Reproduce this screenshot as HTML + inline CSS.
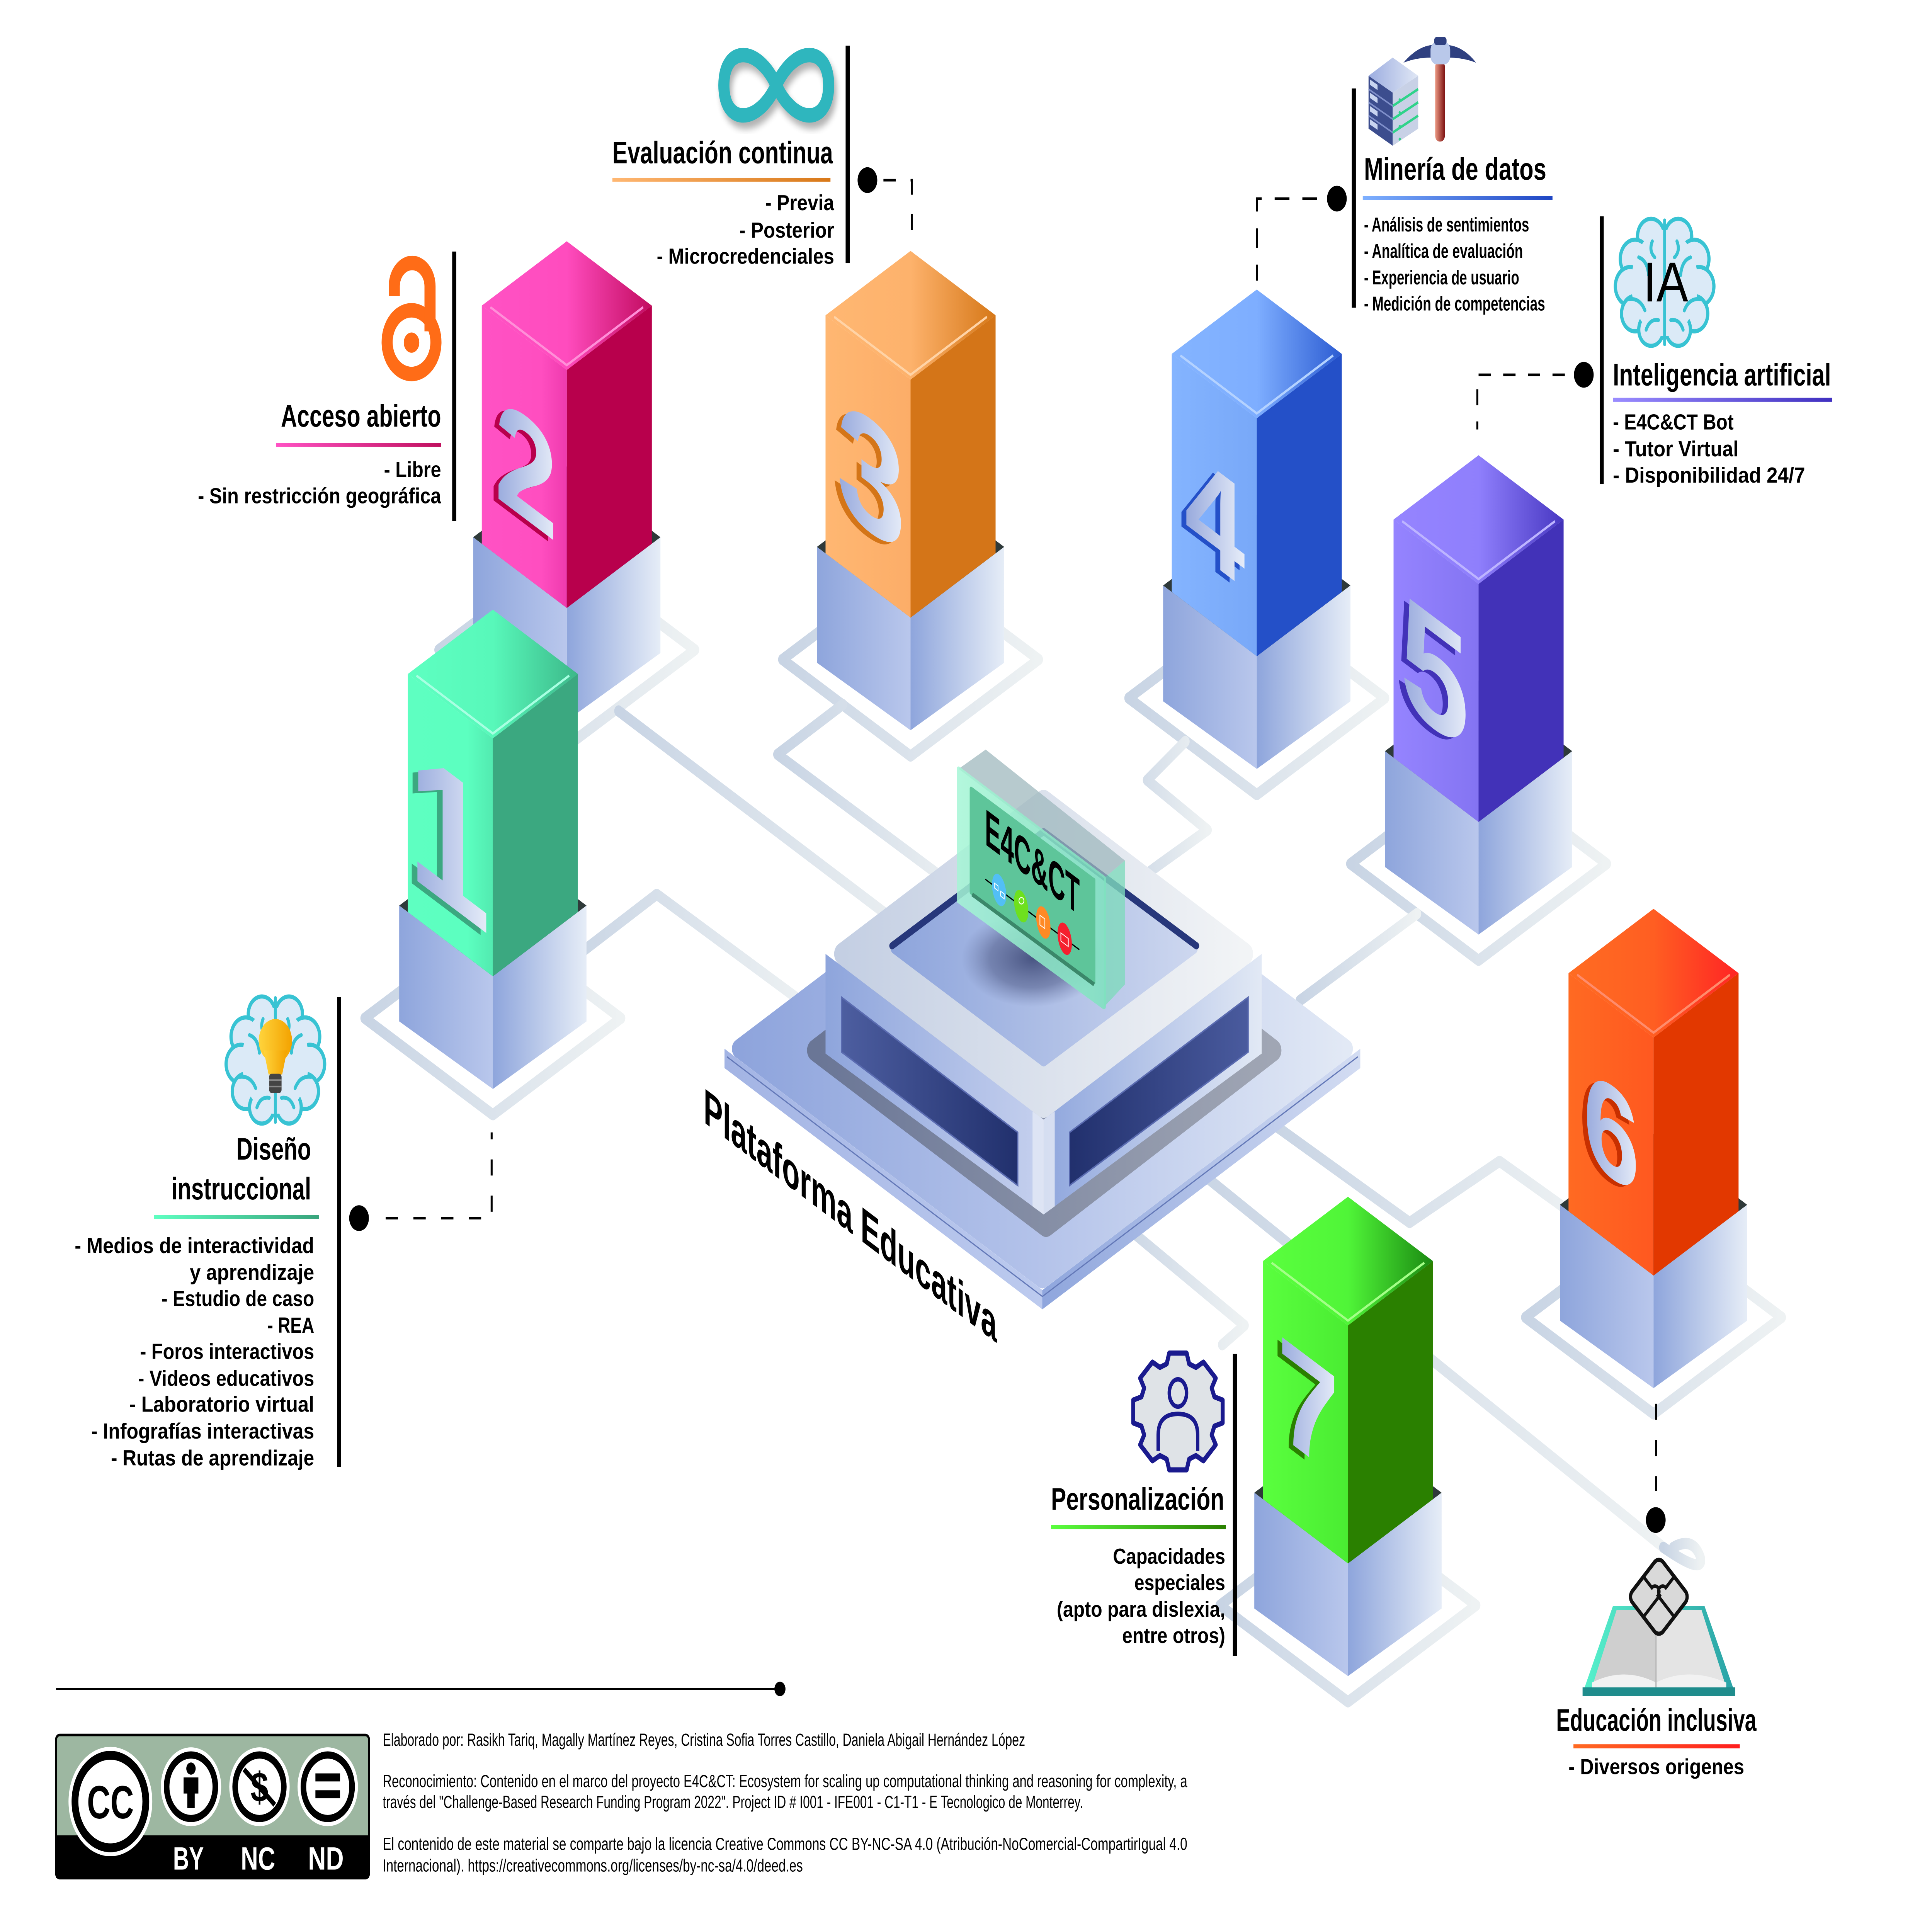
<!DOCTYPE html>
<html><head><meta charset="utf-8">
<style>
html,body{margin:0;padding:0;background:#fff;overflow:hidden;width:100%;height:100%;}
svg{display:block;position:absolute;left:0;top:0;width:100vw;height:100vh;}
text{font-family:"Liberation Sans",sans-serif;}
</style></head>
<body>
<svg xmlns="http://www.w3.org/2000/svg" xmlns:xlink="http://www.w3.org/1999/xlink" viewBox="0 0 1568 1201.1" preserveAspectRatio="none">
<defs>
<linearGradient id="lg" x1="0" y1="0" x2="1" y2="0"><stop offset="0" stop-color="#c8d4e4"/><stop offset="1" stop-color="#eef2f3"/></linearGradient>
<linearGradient id="bl" x1="0" y1="0" x2="1" y2="0"><stop offset="0" stop-color="#8ea5dc"/><stop offset="1" stop-color="#b9c7ec"/></linearGradient>
<linearGradient id="br" x1="0" y1="0" x2="1" y2="0"><stop offset="0" stop-color="#8ea5dc"/><stop offset="1" stop-color="#e6edf7"/></linearGradient>
<linearGradient id="dg" x1="0" y1="0" x2="1" y2="0"><stop offset="0" stop-color="#96a8dc"/><stop offset="1" stop-color="#e8eef9"/></linearGradient>
<linearGradient id="t1" x1="0" y1="0" x2="1" y2="0"><stop offset="0" stop-color="#5effc1"/><stop offset=".5" stop-color="#58f8ba"/><stop offset="1" stop-color="#3cb889"/></linearGradient>
<linearGradient id="t2" x1="0" y1="0" x2="1" y2="0"><stop offset="0" stop-color="#ff52c4"/><stop offset=".5" stop-color="#ff4cbe"/><stop offset="1" stop-color="#c20c60"/></linearGradient>
<linearGradient id="t3" x1="0" y1="0" x2="1" y2="0"><stop offset="0" stop-color="#ffb772"/><stop offset=".5" stop-color="#fdb26c"/><stop offset="1" stop-color="#d67818"/></linearGradient>
<linearGradient id="t4" x1="0" y1="0" x2="1" y2="0"><stop offset="0" stop-color="#84b4ff"/><stop offset=".5" stop-color="#7eaeff"/><stop offset="1" stop-color="#2c5cd2"/></linearGradient>
<linearGradient id="t5" x1="0" y1="0" x2="1" y2="0"><stop offset="0" stop-color="#9584ff"/><stop offset=".5" stop-color="#8f7ffc"/><stop offset="1" stop-color="#4838c2"/></linearGradient>
<linearGradient id="t6" x1="0" y1="0" x2="1" y2="0"><stop offset="0" stop-color="#ff6c22"/><stop offset=".5" stop-color="#ff5e22"/><stop offset="1" stop-color="#ff2424"/></linearGradient>
<linearGradient id="t7" x1="0" y1="0" x2="1" y2="0"><stop offset="0" stop-color="#5aff3e"/><stop offset=".5" stop-color="#50f538"/><stop offset="1" stop-color="#1b8a12"/></linearGradient>
<linearGradient id="f1" x1="0" y1="0" x2="1" y2="0"><stop offset="0" stop-color="#5effc1"/><stop offset=".7" stop-color="#5cffc0"/><stop offset="1" stop-color="#52eab0"/></linearGradient>
<linearGradient id="f2" x1="0" y1="0" x2="1" y2="0"><stop offset="0" stop-color="#ff52c4"/><stop offset=".7" stop-color="#ff4ec0"/><stop offset="1" stop-color="#ee3aae"/></linearGradient>
<linearGradient id="f3" x1="0" y1="0" x2="1" y2="0"><stop offset="0" stop-color="#ffb772"/><stop offset="1" stop-color="#fcad68"/></linearGradient>
<linearGradient id="f4" x1="0" y1="0" x2="1" y2="0"><stop offset="0" stop-color="#84b4ff"/><stop offset="1" stop-color="#78a8f8"/></linearGradient>
<linearGradient id="f5" x1="0" y1="0" x2="1" y2="0"><stop offset="0" stop-color="#9584ff"/><stop offset="1" stop-color="#8474f2"/></linearGradient>
<linearGradient id="f6" x1="0" y1="0" x2="1" y2="0"><stop offset="0" stop-color="#ff6a22"/><stop offset="1" stop-color="#ff5820"/></linearGradient>
<linearGradient id="f7" x1="0" y1="0" x2="1" y2="0"><stop offset="0" stop-color="#5aff3e"/><stop offset="1" stop-color="#4aec32"/></linearGradient>
<linearGradient id="u1" x1="0" y1="0" x2="1" y2="0"><stop offset="0" stop-color="#5effc1"/><stop offset="1" stop-color="#38a47c"/></linearGradient>
<linearGradient id="u2" x1="0" y1="0" x2="1" y2="0"><stop offset="0" stop-color="#ff52c4"/><stop offset="1" stop-color="#c0105e"/></linearGradient>
<linearGradient id="u3" x1="0" y1="0" x2="1" y2="0"><stop offset="0" stop-color="#ffb772"/><stop offset="1" stop-color="#d87818"/></linearGradient>
<linearGradient id="u4" x1="0" y1="0" x2="1" y2="0"><stop offset="0" stop-color="#7eb0ff"/><stop offset="1" stop-color="#1f46c4"/></linearGradient>
<linearGradient id="u5" x1="0" y1="0" x2="1" y2="0"><stop offset="0" stop-color="#9a8cff"/><stop offset="1" stop-color="#4030c0"/></linearGradient>
<linearGradient id="u6" x1="0" y1="0" x2="1" y2="0"><stop offset="0" stop-color="#ff6a22"/><stop offset="1" stop-color="#ff1e1e"/></linearGradient>
<linearGradient id="u7" x1="0" y1="0" x2="1" y2="0"><stop offset="0" stop-color="#5aff3e"/><stop offset="1" stop-color="#2a8000"/></linearGradient>
<linearGradient id="plateTop" x1="0" y1="0" x2="1" y2="0"><stop offset="0" stop-color="#8ea4dc"/><stop offset=".5" stop-color="#b4c3ea"/><stop offset="1" stop-color="#e2e9f5"/></linearGradient>
<linearGradient id="plateSide" x1="0" y1="0" x2="1" y2="0"><stop offset="0" stop-color="#a3b4e4"/><stop offset=".5" stop-color="#bccaee"/><stop offset=".5" stop-color="#8fa6dd"/><stop offset="1" stop-color="#d3dcf2"/></linearGradient>
<linearGradient id="ringG" x1="0" y1="0" x2="1" y2="0"><stop offset="0" stop-color="#6a7696"/><stop offset="1" stop-color="#a0a6b4"/></linearGradient>
<linearGradient id="blkTop" x1="0" y1="0" x2="1" y2="0"><stop offset="0" stop-color="#c4cfe3"/><stop offset="1" stop-color="#f2f4f6"/></linearGradient>
<linearGradient id="blkL" x1="0" y1="0" x2="1" y2="0"><stop offset="0" stop-color="#8ea5dc"/><stop offset="1" stop-color="#c5d0ee"/></linearGradient>
<linearGradient id="blkR" x1="0" y1="0" x2="1" y2="0"><stop offset="0" stop-color="#8fa6dd"/><stop offset="1" stop-color="#e2e9f5"/></linearGradient>
<linearGradient id="recess" x1="0" y1="0" x2="1" y2="0"><stop offset="0" stop-color="#8ea5dc"/><stop offset="1" stop-color="#cdd7ef"/></linearGradient>
<linearGradient id="winL" x1="0" y1="0" x2="1" y2="0"><stop offset="0" stop-color="#4d5ea0"/><stop offset="1" stop-color="#21306d"/></linearGradient>
<linearGradient id="winR" x1="0" y1="0" x2="1" y2="0"><stop offset="0" stop-color="#21306d"/><stop offset="1" stop-color="#4a5b9e"/></linearGradient>
<linearGradient id="cf" x1="0" y1="0" x2="1" y2="0"><stop offset="0" stop-color="#a6f6d6"/><stop offset="1" stop-color="#7fe3bf"/></linearGradient>
<linearGradient id="handle" x1="0" y1="0" x2="1" y2="0"><stop offset="0" stop-color="#ec9a84"/><stop offset="1" stop-color="#7e1212"/></linearGradient>
<linearGradient id="srvTop" x1="0" y1="0" x2="1" y2="0"><stop offset="0" stop-color="#9cade0"/><stop offset="1" stop-color="#e0e7f5"/></linearGradient>
<linearGradient id="bulb" x1="0" y1="0" x2="1" y2="0"><stop offset="0" stop-color="#ffd43c"/><stop offset="1" stop-color="#f3a200"/></linearGradient>
<linearGradient id="bookC" x1="0" y1="0" x2="1" y2="0"><stop offset="0" stop-color="#58f2cc"/><stop offset="1" stop-color="#2aa2a6"/></linearGradient>
<radialGradient id="sh" cx=".5" cy=".5" r=".5"><stop offset="0" stop-color="#44507e" stop-opacity=".95"/><stop offset=".6" stop-color="#55618e" stop-opacity=".6"/><stop offset="1" stop-color="#6a78a8" stop-opacity="0"/></radialGradient>
<filter id="blur" x="-20%" y="-20%" width="140%" height="140%"><feGaussianBlur stdDeviation="2.2"/></filter>
<g id="brain">
 <g fill="#dbeaf7" stroke="#38c3d3" stroke-width="2.6">
  <circle cx="1340" cy="147" r="11"/><circle cx="1327" cy="161" r="12"/><circle cx="1323" cy="178" r="12"/><circle cx="1327" cy="195" r="11"/><circle cx="1340" cy="205" r="10"/>
  <circle cx="1362" cy="147" r="11"/><circle cx="1375" cy="161" r="12"/><circle cx="1379" cy="178" r="12"/><circle cx="1375" cy="195" r="11"/><circle cx="1362" cy="205" r="10"/>
 </g>
 <ellipse cx="1351" cy="176" rx="27" ry="33" fill="#dbeaf7"/>
 <g fill="none" stroke="#38c3d3" stroke-width="2.4" stroke-linecap="round">
  <line x1="1351" y1="137" x2="1351" y2="214"/>
  <path d="M1330,160 q7,2 8,11"/><path d="M1372,160 q-7,2 -8,11"/>
  <path d="M1322,186 q9,-1 13,7"/><path d="M1380,186 q-9,-1 -13,7"/>
  <path d="M1341,150 q-3,6 2,10"/><path d="M1361,150 q3,6 -2,10"/>
  <path d="M1336,205 q3,-7 10,-6"/><path d="M1366,205 q-3,-7 -10,-6"/>
 </g>
</g>
</defs>

<rect width="1568" height="1201.1" fill="#fff"/>

<!-- circuit lines and footprints -->
<g fill="none" stroke="url(#lg)" stroke-width="7" stroke-linecap="round" stroke-linejoin="round">
 <polygon points="296,633 400,573 504,633 400,693"/>
 <polygon points="356,404 460,344 564,404 460,464"/>
 <polygon points="635,410 739,350 843,410 739,470"/>
 <polygon points="916,434 1020,374 1124,434 1020,494"/>
 <polygon points="1096,537 1200,477 1304,537 1200,597"/>
 <polygon points="1238,819 1342,759 1446,819 1342,879"/>
 <polygon points="990,998 1094,938 1198,998 1094,1058"/>
 <polyline points="502,442 760,592"/>
 <polyline points="455,602 533,556 660,628"/>
 <polyline points="684,438 631,469 790,560"/>
 <polyline points="962,461 931,485 980,516 940,538 905,558"/>
 <polyline points="1150,568 1055,622"/>
 <polyline points="1030,697 1144,760 1217,722 1290,762"/>
 <polyline points="960,720 1350,962"/>
 <path d="M1350,962 Q1384,980 1380,968 Q1374,955 1358,962"/>
 <polyline points="905,757 1010,824 992,836"/>
</g>

<!-- Pillar 2 -->
<g>
<polygon points="384,334 460,290 536,334 460,378" fill="#2f3a3a"/>
<polygon points="384,334 460,378 460,448 384,406" fill="url(#bl)"/>
<polygon points="460,378 536,334 536,406 460,448" fill="url(#br)"/>
<polygon points="391,190 460,230 460,378 391,338" fill="url(#f2)"/>
<polygon points="460,230 529,190 529,338 460,378" fill="#b8004c"/>
<polygon points="460,150 529,190 460,230 391,190" fill="url(#t2)"/>
<polyline points="398,191 460,227 522,191" fill="none" stroke="#ff8fd8" stroke-width="1.5"/>
<text transform="translate(423,291) skewY(30)" y="33" font-size="92" font-weight="bold" text-anchor="middle" fill="#b8004c">2</text>
<text transform="translate(427,290) skewY(30)" y="33" font-size="92" font-weight="bold" text-anchor="middle" fill="url(#dg)">2</text>
</g>
<!-- Pillar 3 -->
<g>
<polygon points="663,340 739,296 815,340 739,384" fill="#2f3a3a"/>
<polygon points="663,340 739,384 739,454 663,412" fill="url(#bl)"/>
<polygon points="739,384 815,340 815,412 739,454" fill="url(#br)"/>
<polygon points="670,196 739,236 739,384 670,344" fill="url(#f3)"/>
<polygon points="739,236 808,196 808,344 739,384" fill="#d47518"/>
<polygon points="739,156 808,196 739,236 670,196" fill="url(#t3)"/>
<polyline points="677,197 739,233 801,197" fill="none" stroke="#ffd3a6" stroke-width="1.5"/>
<text transform="translate(703,296) skewY(30)" y="36" font-size="100" font-weight="bold" text-anchor="middle" fill="#d47518">3</text>
<text transform="translate(707,294.5) skewY(30)" y="36" font-size="100" font-weight="bold" text-anchor="middle" fill="url(#dg)">3</text>
</g>
<!-- Pillar 4 -->
<g>
<polygon points="944,364 1020,320 1096,364 1020,408" fill="#2f3a3a"/>
<polygon points="944,364 1020,408 1020,478 944,436" fill="url(#bl)"/>
<polygon points="1020,408 1096,364 1096,436 1020,478" fill="url(#br)"/>
<polygon points="951,220 1020,260 1020,408 951,368" fill="url(#f4)"/>
<polygon points="1020,260 1089,220 1089,368 1020,408" fill="#2450c8"/>
<polygon points="1020,180 1089,220 1020,260 951,220" fill="url(#t4)"/>
<polyline points="958,221 1020,257 1082,221" fill="none" stroke="#b4d2ff" stroke-width="1.5"/>
<text transform="translate(982,321) skewY(30)" y="32" font-size="88" font-weight="bold" text-anchor="middle" fill="#2450c8">4</text>
<text transform="translate(986,320) skewY(30)" y="32" font-size="88" font-weight="bold" text-anchor="middle" fill="url(#dg)">4</text>
</g>
<!-- Pillar 5 -->
<g>
<polygon points="1124,467 1200,423 1276,467 1200,511" fill="#2f3a3a"/>
<polygon points="1124,467 1200,511 1200,581 1124,539" fill="url(#bl)"/>
<polygon points="1200,511 1276,467 1276,539 1200,581" fill="url(#br)"/>
<polygon points="1131,323 1200,363 1200,511 1131,471" fill="url(#f5)"/>
<polygon points="1200,363 1269,323 1269,471 1200,511" fill="#4232b8"/>
<polygon points="1200,283 1269,323 1200,363 1131,323" fill="url(#t5)"/>
<polyline points="1138,324 1200,360 1262,324" fill="none" stroke="#bdb4ff" stroke-width="1.5"/>
<text transform="translate(1160,418) skewY(30)" y="36" font-size="100" font-weight="bold" text-anchor="middle" fill="#4232b8">5</text>
<text transform="translate(1164.4,416.7) skewY(30)" y="36" font-size="100" font-weight="bold" text-anchor="middle" fill="url(#dg)">5</text>
</g>

<!-- Platform -->
<g>
<path d="M588,652 L846,802 L1104,652 L1104,664 L846,814 L588,664 Z" fill="url(#plateSide)"/>
<polygon points="600,652 846,509 1092,652 846,795" fill="url(#plateTop)" stroke="url(#plateTop)" stroke-width="12" stroke-linejoin="round"/>
<polyline points="590,657 846,806 1102,657" fill="none" stroke="#6479b8" stroke-width="0.8"/>
<polygon points="662,653 849,543 1033,653 849,762" fill="url(#ringG)" stroke="url(#ringG)" stroke-width="14" stroke-linejoin="round"/>
<polygon points="670,593 847,696 847,755 670,655" fill="url(#blkL)"/>
<polygon points="847,696 1024,593 1024,655 847,755" fill="url(#blkR)"/>
<polygon points="838,691 847,696 856,691 856,750 847,755 838,750" fill="#e2e8f4" opacity="0.85"/>
<polygon points="683,620 826,704 826,737 683,654" fill="url(#winL)" stroke="#5a6bb0" stroke-width="1"/>
<polygon points="868,704 1013,620 1013,654 868,737" fill="url(#winR)" stroke="#5a6bb0" stroke-width="1"/>
<polygon points="684,593 847,498 1010,593 847,688" fill="url(#blkTop)" stroke="url(#blkTop)" stroke-width="14" stroke-linejoin="round"/>
<polygon points="726,590 847,520 969,590 847,660" fill="url(#recess)" stroke="url(#recess)" stroke-width="6" stroke-linejoin="round"/>
<polyline points="724,588 847,517 971,588" fill="none" stroke="#27377b" stroke-width="4.5" stroke-linejoin="round" stroke-linecap="round"/>
<ellipse cx="838" cy="596" rx="58" ry="30" fill="url(#sh)"/>
<!-- card -->
<polygon points="778,478 800,466 913,535 896,546" fill="#9fb8bd" opacity="0.75"/>
<polygon points="896,546 913,535 913,612 896,626" fill="#7fd9bd" opacity="0.8"/>
<polygon points="778,478 896,546 896,626 778,560" fill="url(#cf)" stroke="url(#cf)" stroke-width="3" stroke-linejoin="round" opacity="0.85"/>
<polygon points="788,490 888,547 888,611 788,555" fill="#5ec59a" stroke="#5ec59a" stroke-width="2" stroke-linejoin="round"/>
<polyline points="789,556 888,612" fill="none" stroke="#3b876a" stroke-width="2.5"/>
<text transform="translate(799.3,524.7) skewY(30)" font-size="32" font-weight="bold" textLength="77" lengthAdjust="spacingAndGlyphs" fill="#000">E4C&amp;CT</text>
<line x1="799.6" y1="546.6" x2="876" y2="590.4" stroke="#000" stroke-width="0.8"/>
<ellipse transform="translate(810.9,553.3) skewY(30)" rx="5.8" ry="9.5" fill="#52bff5"/>
<ellipse transform="translate(828.8,563.4) skewY(30)" rx="5.8" ry="9.5" fill="#6ee01e"/>
<ellipse transform="translate(846.8,573.5) skewY(30)" rx="5.8" ry="9.5" fill="#ff8a25"/>
<ellipse transform="translate(864.1,583.6) skewY(30)" rx="5.8" ry="9.5" fill="#f5202e"/>
<g fill="none" stroke="#fff" stroke-width="0.6">
 <rect transform="translate(807,549) skewY(30)" width="3" height="3"/><rect transform="translate(812,554) skewY(30)" width="3" height="3"/>
 <circle cx="829" cy="560" r="2"/><rect transform="translate(844,569) skewY(30)" width="4" height="6"/>
 <rect transform="translate(861,580) skewY(30)" width="6" height="5"/>
</g>
<text transform="translate(571,697.5) skewY(30)" font-size="31" font-weight="bold" textLength="238" lengthAdjust="spacingAndGlyphs" fill="#000">Plataforma Educativa</text>
</g>

<!-- Pillar 1 -->
<g>
<polygon points="324,563 400,519 476,563 400,607" fill="#2f3a3a"/>
<polygon points="324,563 400,607 400,677 324,635" fill="url(#bl)"/>
<polygon points="400,607 476,563 476,635 400,677" fill="url(#br)"/>
<polygon points="331,419 400,459 400,607 331,567" fill="url(#f1)"/>
<polygon points="400,459 469,419 469,567 400,607" fill="#3ba880"/>
<polygon points="400,379 469,419 400,459 331,419" fill="url(#t1)"/>
<polyline points="338,420 400,456 462,420" fill="none" stroke="#a8ffe2" stroke-width="1.5"/>
<text transform="translate(360,521) skewY(30)" y="43" font-size="120" font-weight="bold" text-anchor="middle" fill="#3ba880">1</text>
<text transform="translate(364.6,519.7) skewY(30)" y="43" font-size="120" font-weight="bold" text-anchor="middle" fill="url(#dg)">1</text>
</g>
<!-- Pillar 6 -->
<g>
<polygon points="1266,749 1342,705 1418,749 1342,793" fill="#2f3a3a"/>
<polygon points="1266,749 1342,793 1342,863 1266,821" fill="url(#bl)"/>
<polygon points="1342,793 1418,749 1418,821 1342,863" fill="url(#br)"/>
<polygon points="1273,605 1342,645 1342,793 1273,753" fill="url(#f6)"/>
<polygon points="1342,645 1411,605 1411,753 1342,793" fill="#e23800"/>
<polygon points="1342,565 1411,605 1342,645 1273,605" fill="url(#t6)"/>
<polyline points="1280,606 1342,642 1404,606" fill="none" stroke="#ff8c6c" stroke-width="1.5"/>
<text transform="translate(1304,703) skewY(30)" y="30" font-size="82" font-weight="bold" text-anchor="middle" fill="#c83000">6</text>
<text transform="translate(1307.8,701.8) skewY(30)" y="30" font-size="82" font-weight="bold" text-anchor="middle" fill="url(#dg)">6</text>
</g>
<!-- Pillar 7 -->
<g>
<polygon points="1018,928 1094,884 1170,928 1094,972" fill="#2f3a3a"/>
<polygon points="1018,928 1094,972 1094,1042 1018,1000" fill="url(#bl)"/>
<polygon points="1094,972 1170,928 1170,1000 1094,1042" fill="url(#br)"/>
<polygon points="1025,784 1094,824 1094,972 1025,932" fill="url(#f7)"/>
<polygon points="1094,824 1163,784 1163,932 1094,972" fill="#2a8000"/>
<polygon points="1094,744 1163,784 1094,824 1025,784" fill="url(#t7)"/>
<polyline points="1032,785 1094,821 1156,785" fill="none" stroke="#a4ff88" stroke-width="1.5"/>
<text transform="translate(1058,875) skewY(30)" y="32" font-size="90" font-weight="bold" text-anchor="middle" fill="#2a8000">7</text>
<text transform="translate(1061.8,873.5) skewY(30)" y="32" font-size="90" font-weight="bold" text-anchor="middle" fill="url(#dg)">7</text>
</g>

<!-- ===== Labels ===== -->
<g fill="#000">
<rect x="367" y="156.4" width="3.3" height="167.5"/>
<rect x="686.3" y="28.4" width="3.3" height="135.2"/>
<rect x="1097.1" y="55" width="3.3" height="136.3"/>
<rect x="1298.3" y="134.5" width="3.3" height="166.5"/>
<rect x="273.5" y="620" width="3.3" height="292"/>
<rect x="1000.6" y="841.7" width="3.3" height="187.8"/>
<circle cx="704" cy="112" r="8"/>
<circle cx="1085" cy="123.5" r="8"/>
<circle cx="1285.4" cy="233" r="8"/>
<circle cx="291.4" cy="757.3" r="8"/>
<circle cx="1343.8" cy="945" r="8"/>
<rect x="45.5" y="1049.4" width="587" height="1.3"/>
<circle cx="633" cy="1050" r="4.5"/>
</g>
<g fill="none" stroke="#000" stroke-width="1.6">
<path d="M717,112 H740 V145" stroke-dasharray="10 12"/>
<path d="M1069,123.5 H1020 V174.5" stroke-dasharray="12 10.5"/>
<path d="M1270,233 H1199 V267" stroke-dasharray="10 10"/>
<path d="M313,757.3 H399 V704" stroke-dasharray="10 12.5"/>
<path d="M1344,872.7 V927" stroke-dasharray="10 12.5"/>
</g>
<rect x="224" y="275.3" width="134" height="2.5" fill="url(#u2)"/>
<rect x="497" y="110.5" width="177" height="2.5" fill="url(#u3)"/>
<rect x="1106" y="121.8" width="154" height="2.5" fill="url(#u4)"/>
<rect x="1309" y="247.3" width="178" height="2.5" fill="url(#u5)"/>
<rect x="125" y="755.3" width="134" height="2.5" fill="url(#u1)"/>
<rect x="853" y="948.1" width="142" height="2.5" fill="url(#u7)"/>
<rect x="1277" y="1084.4" width="135" height="2.5" fill="url(#u6)"/>

<g font-weight="bold" font-size="19.5" fill="#000">
<text x="228" y="265.2" textLength="130" lengthAdjust="spacingAndGlyphs">Acceso abierto</text>
<text x="497" y="101.5" textLength="179" lengthAdjust="spacingAndGlyphs">Evaluación continua</text>
<text x="1107" y="111.7" textLength="148" lengthAdjust="spacingAndGlyphs">Minería de datos</text>
<text x="1309" y="239.6" textLength="177" lengthAdjust="spacingAndGlyphs">Inteligencia artificial</text>
<text x="191.9" y="720.9" textLength="60.6" lengthAdjust="spacingAndGlyphs">Diseño</text>
<text x="139" y="745.7" textLength="113.5" lengthAdjust="spacingAndGlyphs">instruccional</text>
<text x="853" y="938.5" textLength="140.6" lengthAdjust="spacingAndGlyphs">Personalización</text>
<text x="1263" y="1076" textLength="162.5" lengthAdjust="spacingAndGlyphs">Educación inclusiva</text>
</g>
<g font-weight="bold" font-size="13.5" fill="#000">
<text x="311.6" y="296.6" textLength="46.4" lengthAdjust="spacingAndGlyphs">- Libre</text>
<text x="160.6" y="312.9" textLength="197.4" lengthAdjust="spacingAndGlyphs">- Sin restricción geográfica</text>
<text x="621" y="130.7" textLength="56" lengthAdjust="spacingAndGlyphs">- Previa</text>
<text x="600" y="147.7" textLength="77" lengthAdjust="spacingAndGlyphs">- Posterior</text>
<text x="533" y="164" textLength="144" lengthAdjust="spacingAndGlyphs">- Microcredenciales</text>
<text x="1309" y="267" textLength="98" lengthAdjust="spacingAndGlyphs">- E4C&amp;CT Bot</text>
<text x="1309" y="283.7" textLength="102" lengthAdjust="spacingAndGlyphs">- Tutor Virtual</text>
<text x="1309" y="300" textLength="156" lengthAdjust="spacingAndGlyphs">- Disponibilidad 24/7</text>
<text x="60.6" y="779" textLength="194.4" lengthAdjust="spacingAndGlyphs">- Medios de interactividad</text>
<text x="154" y="795.6" textLength="101" lengthAdjust="spacingAndGlyphs">y aprendizaje</text>
<text x="131" y="811.9" textLength="124" lengthAdjust="spacingAndGlyphs">- Estudio de caso</text>
<text x="217" y="828.5" textLength="38" lengthAdjust="spacingAndGlyphs">- REA</text>
<text x="113.6" y="844.8" textLength="141.4" lengthAdjust="spacingAndGlyphs">- Foros interactivos</text>
<text x="112" y="861.5" textLength="143" lengthAdjust="spacingAndGlyphs">- Videos educativos</text>
<text x="105" y="877.7" textLength="150" lengthAdjust="spacingAndGlyphs">- Laboratorio virtual</text>
<text x="74" y="894.4" textLength="181" lengthAdjust="spacingAndGlyphs">- Infografías interactivas</text>
<text x="90" y="911" textLength="165" lengthAdjust="spacingAndGlyphs">- Rutas de aprendizaje</text>
<text x="903.3" y="972.2" textLength="91.1" lengthAdjust="spacingAndGlyphs">Capacidades</text>
<text x="920.6" y="988.5" textLength="73.8" lengthAdjust="spacingAndGlyphs">especiales</text>
<text x="857.7" y="1005.1" textLength="136.7" lengthAdjust="spacingAndGlyphs">(apto para dislexia,</text>
<text x="910.7" y="1021.4" textLength="83.7" lengthAdjust="spacingAndGlyphs">entre otros)</text>
<text x="1273" y="1103" textLength="142.6" lengthAdjust="spacingAndGlyphs">- Diversos origenes</text>
</g>
<g font-weight="bold" font-size="12.5" fill="#000">
<text x="1107" y="143.9" textLength="134" lengthAdjust="spacingAndGlyphs">- Análisis de sentimientos</text>
<text x="1107" y="160.4" textLength="129" lengthAdjust="spacingAndGlyphs">- Analítica de evaluación</text>
<text x="1107" y="176.8" textLength="126" lengthAdjust="spacingAndGlyphs">- Experiencia de usuario</text>
<text x="1107" y="193" textLength="147" lengthAdjust="spacingAndGlyphs">- Medición de competencias</text>
</g>

<!-- open access -->
<g fill="none" stroke="#ff6c17" stroke-width="9">
<circle cx="334" cy="212.7" r="19.8"/>
<path d="M320,184 V178 A14.5,14.5 0 0 1 349,178 V206"/>
</g>
<circle cx="334" cy="213" r="6.3" fill="#ff6c17"/>
<!-- infinity -->
<path d="M630,53 C645,28 672.5,28 672.5,53 C672.5,78 645,78 630,53 C615,28 587.5,28 587.5,53 C587.5,78 615,78 630,53 Z" fill="none" stroke="#000" stroke-width="9" opacity="0.3" filter="url(#blur)" transform="translate(2,4)"/>
<path d="M630,53 C645,28 672.5,28 672.5,53 C672.5,78 645,78 630,53 C615,28 587.5,28 587.5,53 C587.5,78 615,78 630,53 Z" fill="none" stroke="#2fb6be" stroke-width="9"/>
<!-- server + pickaxe -->
<g>
<path d="M1139,39 Q1150,29 1162,28 L1175,28 Q1188,29 1198,39 Q1185,35 1168,36 Q1152,35 1139,39 Z" fill="#2f4080"/>
<rect x="1164.8" y="38" width="7.8" height="50" rx="3.5" fill="url(#handle)"/>
<rect x="1161" y="26" width="16" height="14" rx="5" fill="#b9c8ea"/>
<rect x="1164" y="23" width="10" height="5" rx="2" fill="#2f4080"/>
<polygon points="1110.7,47.1 1130.3,57.6 1130.3,90.6 1110.7,80" fill="#3c4d8e"/>
<polygon points="1130.3,57.6 1151,47.1 1151,80 1130.3,90.6" fill="#c8d1e6"/>
<polygon points="1130.3,35.8 1151,47.1 1130.3,57.6 1110.7,47.1" fill="url(#srvTop)"/>
<g stroke="#2fd38a" stroke-width="1.6">
<line x1="1130.3" y1="65.9" x2="1151" y2="55.4"/><line x1="1130.3" y1="74.1" x2="1151" y2="63.6"/><line x1="1130.3" y1="82.4" x2="1151" y2="71.9"/>
</g>
<g stroke="#7f8fca" stroke-width="1">
<line x1="1110.7" y1="55.4" x2="1130.3" y2="65.9"/><line x1="1110.7" y1="63.6" x2="1130.3" y2="74.1"/><line x1="1110.7" y1="71.9" x2="1130.3" y2="82.4"/>
</g>
<g fill="#c8d4f0">
<polygon points="1112,49.5 1118,52.7 1118,56 1112,52.8"/><polygon points="1112,57.7 1118,60.9 1118,64.2 1112,61"/><polygon points="1112,66 1118,69.2 1118,72.5 1112,69.3"/><polygon points="1112,74.2 1118,77.4 1118,80.7 1112,77.5"/>
</g>
<g fill="#2fd38a">
<circle cx="1136" cy="62" r="0.9"/><circle cx="1136" cy="70" r="0.9"/><circle cx="1136" cy="78.5" r="0.9"/><circle cx="1136" cy="86.5" r="0.9"/>
</g>
</g>
<!-- IA brain -->
<use xlink:href="#brain" href="#brain"/>
<text x="1333.6" y="187.4" font-size="35" textLength="36.5" lengthAdjust="spacingAndGlyphs" fill="#000">IA</text>
<!-- brain + bulb -->
<use xlink:href="#brain" href="#brain" transform="translate(-1127.5,483.5)"/>
<circle cx="223.5" cy="647" r="13.5" fill="url(#bulb)"/>
<polygon points="214,653 233,653 229,668 218,668" fill="url(#bulb)"/>
<rect x="218.5" y="667.5" width="10" height="12" rx="2" fill="#444"/>
<line x1="218.5" y1="671.5" x2="228.5" y2="671.5" stroke="#888" stroke-width="1"/>
<line x1="218.5" y1="675.5" x2="228.5" y2="675.5" stroke="#888" stroke-width="1"/>
<!-- gear -->
<polygon points="946.9,847.9 948.9,841.2 963.1,841.2 965.1,847.9 970.6,850.1 976.7,846.8 986.7,856.8 983.4,862.9 985.6,868.4 992.3,870.4 992.3,884.6 985.6,886.6 983.4,892.1 986.7,898.2 976.7,908.2 970.6,904.9 965.1,907.1 963.1,913.8 948.9,913.8 946.9,907.1 941.4,904.9 935.3,908.2 925.3,898.2 928.6,892.1 926.4,886.6 919.7,884.6 919.7,870.4 926.4,868.4 928.6,862.9 925.3,856.8 935.3,846.8 941.4,850.1" fill="#dfe3e7" stroke="#1a1a8e" stroke-width="3.2" stroke-linejoin="round"/>
<ellipse cx="956" cy="866" rx="7" ry="8.5" fill="#dfe3e7" stroke="#1a1a8e" stroke-width="2.8"/>
<path d="M940,902 V892 Q940,879 956,879 Q972,879 972,892 V902" fill="none" stroke="#1a1a8e" stroke-width="2.8"/>
<!-- book + puzzle -->
<polygon points="1309,998.5 1383.4,998.5 1408.2,1052.7 1284.4,1052.7" fill="url(#bookC)"/>
<rect x="1284.4" y="1049" width="123.8" height="5.5" fill="#1f8c8c"/>
<polygon points="1312,1001 1344,1001 1344,1049 1292,1049" fill="#cfcfcf"/>
<polygon points="1344,1001 1381,1001 1401,1049 1344,1049" fill="#e4e4e4"/>
<path d="M1292,1046 Q1318,1036 1344,1046 Q1370,1036 1401,1046 L1401,1049 L1292,1049 Z" fill="#f2f2f2"/>
<line x1="1344" y1="1001" x2="1344" y2="1049" stroke="#b8b8b8" stroke-width="1"/>
<g transform="translate(1346.3,992.7) rotate(45)">
<rect x="-17.7" y="-17.7" width="35.4" height="35.4" rx="5" fill="#d9d9d9" stroke="#111" stroke-width="2.6"/>
<path d="M0,-17.7 V-8 a3.5,3.5 0 1 0 0,7 V17.7 M-17.7,0 H-8 a3.5,3.5 0 1 1 7,0 H17.7" fill="none" stroke="#111" stroke-width="2.2"/>
</g>

<!-- CC badge -->
<rect x="45.5" y="1078.6" width="254" height="89" rx="3" fill="#9db7a1" stroke="#000" stroke-width="1.6"/>
<rect x="45.5" y="1141" width="254" height="26.6" fill="#000"/>
<circle cx="89.6" cy="1120" r="34" fill="#fff"/>
<circle cx="89.6" cy="1120" r="31.5" fill="#000"/>
<circle cx="89.6" cy="1120" r="26" fill="#fff"/>
<text x="70.6" y="1130.5" font-size="29" font-weight="bold" textLength="38" lengthAdjust="spacingAndGlyphs" fill="#000">CC</text>
<g>
<circle cx="155" cy="1110.8" r="24.5" fill="#fff"/><circle cx="155" cy="1110.8" r="22" fill="#000"/><circle cx="155" cy="1110.8" r="17.5" fill="#fff"/>
<circle cx="155" cy="1099.5" r="3.8" fill="#000"/>
<path d="M149,1105 h12 v10 h-3 v9 h-6 v-9 h-3 z" fill="#000"/>
<circle cx="210.6" cy="1110.8" r="24.5" fill="#fff"/><circle cx="210.6" cy="1110.8" r="22" fill="#000"/><circle cx="210.6" cy="1110.8" r="17.5" fill="#fff"/>
<text x="210.6" y="1120" font-size="26" font-weight="bold" text-anchor="middle" fill="#000">$</text>
<line x1="198" y1="1100" x2="223" y2="1122" stroke="#000" stroke-width="3.2"/>
<circle cx="266" cy="1110.8" r="24.5" fill="#fff"/><circle cx="266" cy="1110.8" r="22" fill="#000"/><circle cx="266" cy="1110.8" r="17.5" fill="#fff"/>
<rect x="256" y="1102.5" width="20" height="5" fill="#000"/><rect x="256" y="1113" width="20" height="5" fill="#000"/>
</g>
<g font-weight="bold" font-size="20" fill="#fff">
<text x="140.4" y="1162.3" textLength="25" lengthAdjust="spacingAndGlyphs">BY</text>
<text x="195.4" y="1162.3" textLength="28" lengthAdjust="spacingAndGlyphs">NC</text>
<text x="250" y="1162.3" textLength="29" lengthAdjust="spacingAndGlyphs">ND</text>
</g>
<g font-size="10.8" fill="#000">
<text x="310.6" y="1085.3" textLength="521.4" lengthAdjust="spacingAndGlyphs">Elaborado por: Rasikh Tariq, Magally Martínez Reyes, Cristina Sofia Torres Castillo, Daniela Abigail Hernández López</text>
<text x="310.6" y="1111" textLength="653" lengthAdjust="spacingAndGlyphs">Reconocimiento: Contenido en el marco del proyecto E4C&amp;CT: Ecosystem for scaling up computational thinking and reasoning for complexity, a</text>
<text x="310.6" y="1124" textLength="568.4" lengthAdjust="spacingAndGlyphs">través del "Challenge-Based Research Funding Program 2022". Project ID # I001 - IFE001 - C1-T1 - E Tecnologico de Monterrey.</text>
<text x="310.6" y="1150" textLength="653" lengthAdjust="spacingAndGlyphs">El contenido de este material se comparte bajo la licencia Creative Commons CC BY-NC-SA 4.0 (Atribución-NoComercial-CompartirIgual 4.0</text>
<text x="310.6" y="1163.5" textLength="341" lengthAdjust="spacingAndGlyphs">Internacional). https://creativecommons.org/licenses/by-nc-sa/4.0/deed.es</text>
</g>
</svg>
</body></html>
